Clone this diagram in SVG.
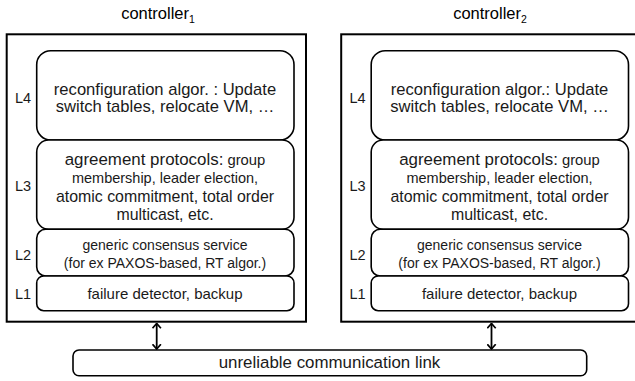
<svg xmlns="http://www.w3.org/2000/svg" width="635" height="381" viewBox="0 0 635 381">
<style>
.outer{fill:#fff;stroke:#000;stroke-width:2}
.box{fill:#fff;stroke:#000;stroke-width:1.6}
.t{font-family:"Liberation Sans",Arial,sans-serif;fill:#1a1a1a;text-anchor:middle}
.lab{font-family:"Liberation Sans",Arial,sans-serif;font-size:14.5px;fill:#1a1a1a;text-anchor:middle}
.title{font-family:"Liberation Sans",Arial,sans-serif;font-size:16.5px;fill:#000;text-anchor:middle}
.conn{stroke:#000;stroke-width:1.8;fill:none}
</style>
<defs>
<marker id="ah" viewBox="0 0 6 10" refX="5.4" refY="5" markerWidth="6" markerHeight="10" orient="auto-start-reverse" markerUnits="userSpaceOnUse">
<path d="M0.6,0.8 L5.4,5 L0.6,9.2" fill="none" stroke="#000" stroke-width="1.7"/>
</marker>
</defs>

<g id="controller1">
<text class="title" x="158" y="19">controller<tspan font-size="10.5px" dy="4">1</tspan></text>
<rect class="outer" x="6.7" y="34.3" width="299.3" height="287.4"/>
<g id="c1-L4">
<rect class="box" x="36.7" y="50.7" width="257.3" height="89.3" rx="14"/>
<text class="lab" x="23" y="103">L4</text>
<text class="t" font-size="16.6px" x="165" y="94.5">reconfiguration algor. : Update</text>
<text class="t" font-size="16.6px" x="165" y="112">switch tables, relocate VM, …</text>
</g>
<g id="c1-L3">
<rect class="box" x="36.7" y="140" width="257.3" height="89.3" rx="12"/>
<text class="lab" x="23" y="191">L3</text>
<text class="t" x="165" y="165"><tspan font-size="16.9px">agreement protocols:</tspan><tspan font-size="14.8px"> group</tspan></text>
<text class="t" font-size="14.5px" x="165" y="183">membership, leader election,</text>
<text class="t" font-size="15.9px" x="165" y="201.5">atomic commitment, total order</text>
<text class="t" font-size="15.9px" x="165" y="220">multicast, etc.</text>
</g>
<g id="c1-L2">
<rect class="box" x="36.7" y="229.3" width="257.3" height="46.7" rx="9"/>
<text class="lab" x="23" y="260">L2</text>
<text class="t" font-size="14px" x="165" y="250">generic consensus service</text>
<text class="t" font-size="14px" x="165" y="268">(for ex PAXOS-based, RT algor.)</text>
</g>
<g id="c1-L1">
<rect class="box" x="36.7" y="276" width="257.3" height="34.7" rx="7"/>
<text class="lab" x="23" y="298.5">L1</text>
<text class="t" font-size="15px" x="165" y="299">failure detector, backup</text>
</g>
</g>

<g id="controller2">
<text class="title" x="490" y="19">controller<tspan font-size="10.5px" dy="4">2</tspan></text>
<rect class="outer" x="341.2" y="34.3" width="299.3" height="287.4"/>
<g id="c2-L4">
<rect class="box" x="371.2" y="50.7" width="257.3" height="89.3" rx="14"/>
<text class="lab" x="357.5" y="103">L4</text>
<text class="t" font-size="16.6px" x="499.5" y="94.5">reconfiguration algor.: Update</text>
<text class="t" font-size="16.6px" x="499.5" y="112">switch tables, relocate VM, …</text>
</g>
<g id="c2-L3">
<rect class="box" x="371.2" y="140" width="257.3" height="89.3" rx="12"/>
<text class="lab" x="357.5" y="191">L3</text>
<text class="t" x="499.5" y="165"><tspan font-size="16.9px">agreement protocols:</tspan><tspan font-size="14.8px"> group</tspan></text>
<text class="t" font-size="14.5px" x="499.5" y="183">membership, leader election,</text>
<text class="t" font-size="15.9px" x="499.5" y="201.5">atomic commitment, total order</text>
<text class="t" font-size="15.9px" x="499.5" y="220">multicast, etc.</text>
</g>
<g id="c2-L2">
<rect class="box" x="371.2" y="229.3" width="257.3" height="46.7" rx="9"/>
<text class="lab" x="357.5" y="260">L2</text>
<text class="t" font-size="14px" x="499.5" y="250">generic consensus service</text>
<text class="t" font-size="14px" x="499.5" y="268">(for ex PAXOS-based, RT algor.)</text>
</g>
<g id="c2-L1">
<rect class="box" x="371.2" y="276" width="257.3" height="34.7" rx="7"/>
<text class="lab" x="357.5" y="298.5">L1</text>
<text class="t" font-size="15px" x="499.5" y="299">failure detector, backup</text>
</g>
</g>

<g id="link">
<rect class="box" x="73" y="350" width="513.7" height="25.7" rx="6"/>
<text class="t" font-size="16.9px" x="329.5" y="368">unreliable communication link</text>
</g>

<g id="connectors">
<line class="conn" x1="156.7" y1="323.5" x2="156.7" y2="349" marker-start="url(#ah)" marker-end="url(#ah)"/>
<line class="conn" x1="491.5" y1="323.5" x2="491.5" y2="349" marker-start="url(#ah)" marker-end="url(#ah)"/>
</g>
</svg>
